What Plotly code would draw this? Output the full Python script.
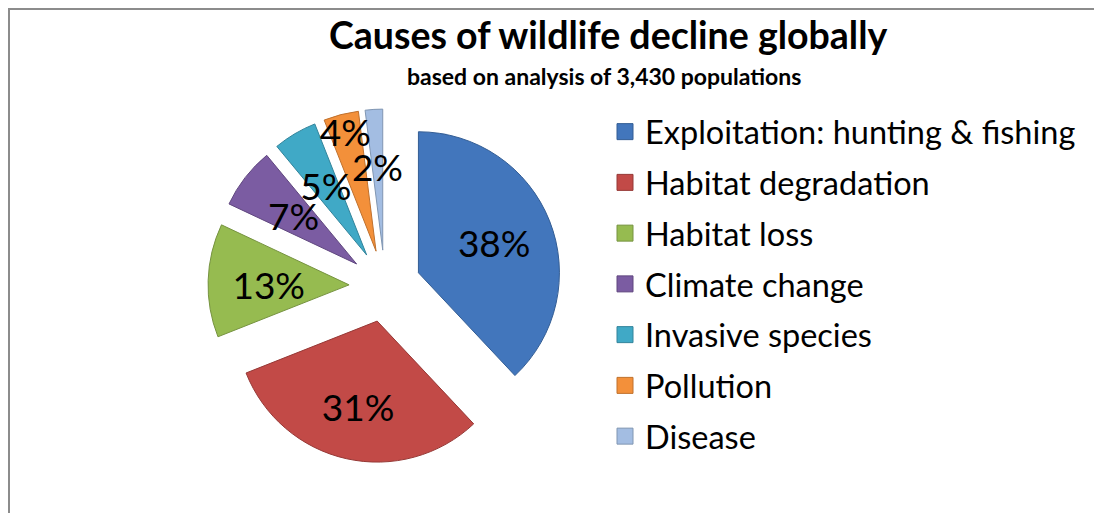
import plotly.graph_objects as go

causes = ["Exploitation: hunting & fishing", "Habitat degradation", "Habitat loss",
          "Climate change", "Invasive species", "Pollution", "Disease"]
shares = [38, 31, 13, 7, 5, 4, 2]
colors = ["#4276BC", "#C24A47", "#96BB50", "#7B5CA2", "#40A9C6", "#F3903A", "#A3BDE2"]
edges = ["#335D94", "#963936", "#769340", "#60477F", "#32849B", "#C0712D", "#8096B2"]

title_text = "Causes of wildlife decline globally"
subtitle_text = "based on analysis of 3,430 populations"

FONT = "Lato"
OX, OY = 8, 8          # page offset of the plot inside the browser window
W, H = 1102, 513

def px_x(x):
    return (x - OX) / W

def px_y(y):
    return 1 - (y - OY) / H

# pie geometry (window pixels)
CX, CY = 385, 286
R = 141
PULL = 0.255
half = R * (1 + PULL)

# label placement: a transparent copy of the pie, with per-slice offsets
R_TXT = 100
label_pull = [0.656, 0.689, 0.454, 0.337, 0.298, 0.707, 0.26]
half_txt = R_TXT * (1 + max(label_pull))

fig = go.Figure()

fig.add_trace(go.Pie(
    labels=causes,
    values=shares,
    sort=False,
    direction="clockwise",
    rotation=0,
    pull=[PULL] * len(shares),
    marker=dict(colors=colors, line=dict(color=edges, width=1)),
    textinfo="none",
    domain=dict(x=[px_x(CX - half), px_x(CX + half)],
                y=[px_y(CY + half), px_y(CY - half)]),
    showlegend=False,
    hoverinfo="label+percent",
))

fig.add_trace(go.Pie(
    labels=causes,
    values=shares,
    sort=False,
    direction="clockwise",
    rotation=0,
    pull=label_pull,
    marker=dict(colors=["rgba(0,0,0,0)"] * len(shares), line=dict(width=0)),
    texttemplate="%{value}%",
    textposition="inside",
    insidetextorientation="horizontal",
    textfont=dict(family=FONT, size=37, color="black"),
    domain=dict(x=[px_x(CX - half_txt), px_x(CX + half_txt)],
                y=[px_y(CY + half_txt), px_y(CY - half_txt)]),
    showlegend=False,
    hoverinfo="skip",
))

for name, col, ec in zip(causes, colors, edges):
    fig.add_trace(go.Scatter(
        x=[None], y=[None], mode="markers", name=name, legendgroup=name,
        marker=dict(symbol="square", size=16, color=col, line=dict(color=ec, width=1)),
        showlegend=True,
    ))

fig.update_layout(
    width=W, height=H,
    margin=dict(l=0, r=0, t=0, b=0),
    paper_bgcolor="white", plot_bgcolor="white",
    xaxis=dict(visible=False), yaxis=dict(visible=False),
    uniformtext=dict(minsize=37, mode="show"),
    legend=dict(
        x=px_x(605), xanchor="left", y=px_y(104), yanchor="top",
        font=dict(family=FONT, size=32.5, color="black"),
        tracegroupgap=5.5, bgcolor="rgba(0,0,0,0)",
    ),
    annotations=[
        dict(text="<b>" + title_text + "</b>", x=px_x(608), y=px_y(10),
             xref="paper", yref="paper", xanchor="center", yanchor="top",
             showarrow=False, font=dict(family=FONT, size=37.5, color="black")),
        dict(text="<b>" + subtitle_text + "</b>", x=px_x(604), y=px_y(60),
             xref="paper", yref="paper", xanchor="center", yanchor="top",
             showarrow=False, font=dict(family=FONT, size=23, color="black")),
    ],
    shapes=[
        dict(type="rect", xref="paper", yref="paper",
             x0=1 / W, x1=1.05, y0=-0.05, y1=1 - 1 / H,
             line=dict(color="#8C8C8C", width=2), fillcolor="rgba(0,0,0,0)",
             layer="below"),
    ],
)

fig.write_html("out.html")
